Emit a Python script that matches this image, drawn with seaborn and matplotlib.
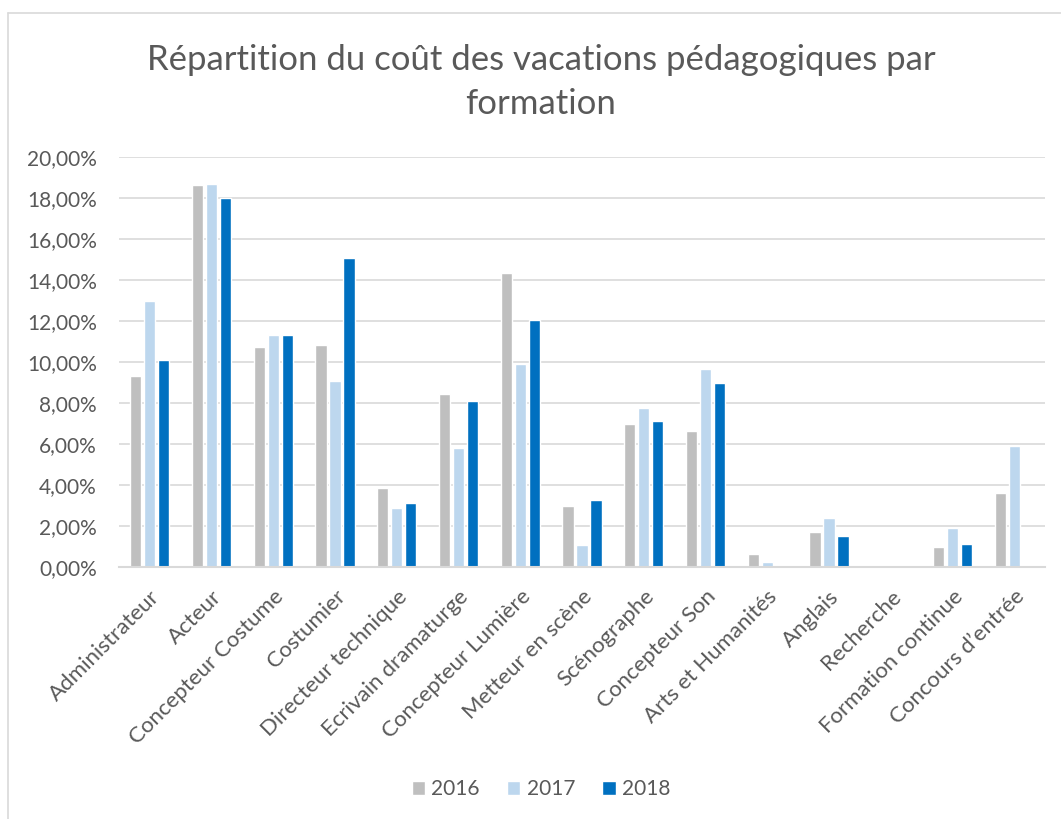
import numpy as np
import pandas as pd
import matplotlib
matplotlib.use("Agg")
from matplotlib import pyplot as plt
from matplotlib.ticker import FuncFormatter
from matplotlib.lines import Line2D
import seaborn as sns

# data (percent)
formations = ['Administrateur', 'Acteur', 'Concepteur Costume', 'Costumier',
              'Directeur technique', 'Ecrivain dramaturge', 'Concepteur Lumière',
              'Metteur en scène', 'Scénographe', 'Concepteur Son',
              'Arts et Humanités', 'Anglais', 'Recherche', 'Formation continue',
              "Concours d’entrée"]
v2016 = [9.33, 18.62, 10.71, 10.84, 3.85, 8.44, 14.32, 2.97, 7.00, 6.61,
         0.62, 1.72, 0.0, 0.96, 3.60]
v2017 = [13.00, 18.67, 11.30, 9.07, 2.89, 5.81, 9.92, 1.07, 7.76, 9.68,
         0.24, 2.40, 0.04, 1.88, 5.91]
v2018 = [10.11, 18.00, 11.31, 15.05, 3.10, 8.08, 12.06, 3.28, 7.11, 8.96,
         0.0, 1.51, 0.0, 1.14, np.nan]
years = ['2016', '2017', '2018']
colors = ['#BFBFBF', '#BDD7EE', '#0070C0']

rows = []
for yr, vals in zip(years, [v2016, v2017, v2018]):
    for f, v in zip(formations, vals):
        rows.append({'Formation': f, 'Annee': yr, 'Part': v / 100})
df = pd.DataFrame(rows)

sns.set_style("white")
plt.rcParams['font.family'] = ['Lato', 'DejaVu Sans']
txt = '#595959'

fig = plt.figure(figsize=(10.61, 8.19), dpi=100)
ax = fig.add_axes([119/1061, 1 - 567/819, (1045-119)/1061, (567-157)/819])

sns.barplot(data=df, x='Formation', y='Part', hue='Annee', palette=colors,
            order=formations, hue_order=years, width=0.68, gap=0.2,
            errorbar=None, ax=ax, saturation=1)

ax.set_ylim(0, 0.20)
ax.set_yticks(np.arange(0, 0.201, 0.02))
ax.yaxis.set_major_formatter(FuncFormatter(lambda v, p: f"{v*100:.2f}%".replace('.', ',')))
ax.grid(axis='y', color='#D9D9D9', linewidth=1.2)
ax.set_axisbelow(True)
for s in ['top', 'right', 'left']:
    ax.spines[s].set_visible(False)
ax.spines['bottom'].set_color('#D9D9D9')
ax.spines['bottom'].set_linewidth(1.5)
ax.set_xlabel('')
ax.set_ylabel('')
ax.tick_params(axis='y', length=0, labelsize=15, labelcolor=txt, pad=16)
ax.tick_params(axis='x', length=0, labelsize=16, labelcolor=txt, pad=14)
plt.setp(ax.get_xticklabels(), rotation=45, ha='right', rotation_mode='anchor')

fig.text(541/1061, 1 - 82/819,
         "Répartition du coût des vacations pédagogiques par\nformation",
         ha='center', va='center', fontsize=25, color=txt, linespacing=1.45)

leg = ax.legend(loc='center', bbox_to_anchor=(541/1061, 1 - 789/819),
                bbox_transform=fig.transFigure, ncol=3, frameon=False,
                fontsize=15, handlelength=0.65, handleheight=0.65,
                handletextpad=0.3, columnspacing=1.3)
for t in leg.get_texts():
    t.set_color(txt)

# chart border (top and left edges visible)
fig.add_artist(Line2D([8/1061, 1], [1 - 13/819, 1 - 13/819], transform=fig.transFigure,
                      color='#D9D9D9', linewidth=1.2))
fig.add_artist(Line2D([8/1061, 8/1061], [0, 1 - 13/819], transform=fig.transFigure,
                      color='#D9D9D9', linewidth=1.2))

fig.savefig("out.png", dpi=100)
